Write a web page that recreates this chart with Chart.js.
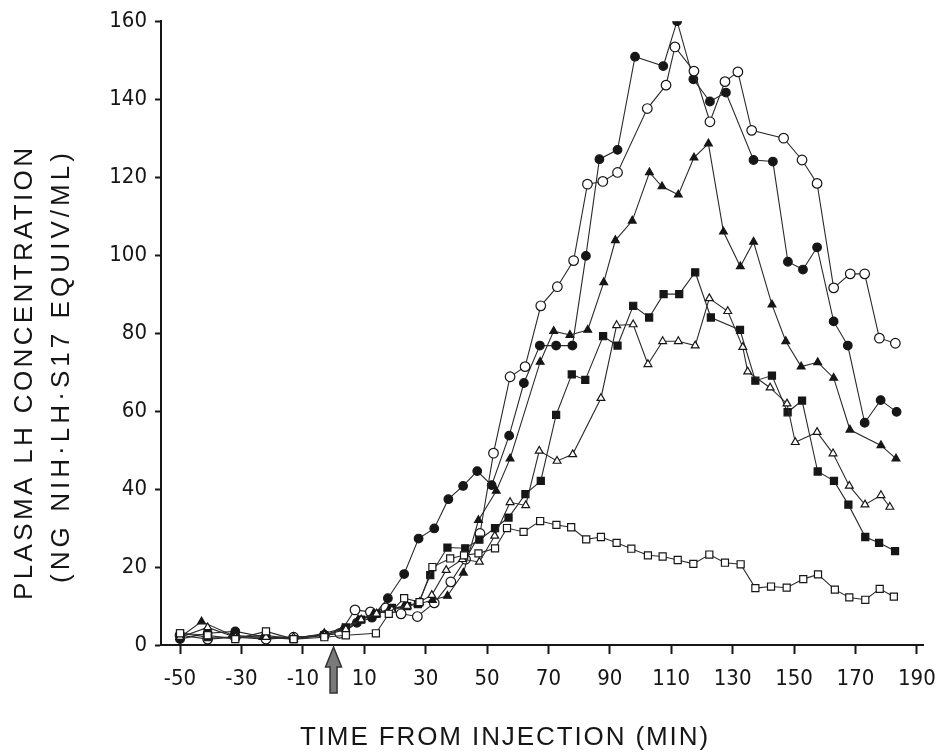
<!DOCTYPE html>
<html>
<head>
<meta charset="utf-8">
<title>Plasma LH concentration</title>
<script src="https://cdn.jsdelivr.net/npm/chart.js@4/dist/chart.umd.min.js"></script>
<style>
  html, body { margin: 0; padding: 0; background: #fff; }
  #wrap { width: 950px; height: 752px; }
</style>
</head>
<body>
<div id="wrap"><canvas id="chart_area" width="950" height="752"></canvas></div>
<script>
'use strict';

//Axis ticks
var xTicks = [-50, -30, -10, 10, 30, 50, 70, 90, 110, 130, 150, 170, 190];
var yTicks = [0, 20, 40, 60, 80, 100, 120, 140, 160];

//Filled circles
var fcTime = [-50, -41, -32, -22, -13, -3, 3, 7.6, 12.5, 17.7, 23, 27.7, 32.8, 37.4, 42.2, 46.8, 51.5, 57.2, 62, 67.2, 72.5, 77.8, 82.2, 86.6, 92.5, 98.2, 107.4, 111.9, 117.2, 122.6, 127.8, 136.8, 143.1, 148, 152.9, 157.5, 162.9, 167.5, 173, 178.2, 183.4];
var fcLH   = [1.5, 3, 3.5, 2, 2, 2.5, 3, 5.7, 7, 12, 18.2, 27.3, 29.9, 37.4, 40.8, 44.6, 41, 53.7, 67.2, 76.8, 76.8, 76.8, 99.8, 124.6, 127, 150.9, 148.5, 160, 145.1, 139.4, 141.7, 124.4, 124, 98.3, 96.3, 102, 83, 76.8, 57, 62.8, 59.8];

//Open circles
var ocTime = [-50, -41, -32, -22, -13, -3, 2, 7, 12, 17, 22, 27.3, 32.8, 38.2, 43, 47.7, 52.1, 57.5, 62.4, 67.5, 72.9, 78.2, 82.7, 87.7, 92.5, 102.2, 108.3, 111.2, 117.4, 122.6, 127.5, 131.7, 136.2, 146.6, 152.6, 157.5, 162.9, 168.3, 173, 177.8, 183];
var ocLH   = [2.5, 1.5, 2, 1.5, 2, 2.5, 3, 9, 8.5, 9.5, 8, 7.3, 10.8, 16.2, 22, 28.6, 49.2, 68.8, 71.4, 87, 91.9, 98.6, 118.2, 118.9, 121.2, 137.6, 143.6, 153.4, 147.2, 134.2, 144.5, 147, 132, 130, 124.4, 118.4, 91.6, 95.2, 95.2, 78.7, 77.4];

//Filled triangles
var ftTime = [-50, -43, -33, -23, -13, -3, 3, 8, 13, 18, 23, 27.5, 32.2, 37.1, 42.3, 47.2, 53, 57.5, 67.3, 71.7, 77, 82.8, 88, 91.8, 97.3, 102.9, 107, 112.3, 117.4, 122.1, 127, 132.5, 136.8, 142.8, 147.3, 152.3, 157.7, 162.9, 168.2, 178.3, 183.2];
var ftLH   = [2, 6, 2.5, 2, 1.5, 3, 4.2, 6.5, 8, 9, 10, 10.5, 11.5, 12.6, 18.5, 32, 39.5, 47.8, 72.6, 80.5, 79.5, 80.8, 93, 103.8, 108.8, 121.2, 117.6, 115.5, 125, 128.6, 106, 97.1, 103.4, 87.3, 77.9, 71.4, 72.5, 68.5, 55.2, 51.2, 47.8];

//Filled squares
var fsTime = [-50, -41, -32, -22, -13, -3, 4, 9, 14, 19, 24, 27.5, 31.5, 37.1, 42.9, 47.5, 52.6, 57, 62.5, 67.5, 72.5, 77.6, 82, 87.8, 92.5, 97.6, 102.8, 107.5, 112.6, 117.8, 122.9, 132.4, 137.4, 142.8, 147.9, 152.6, 157.7, 163, 167.7, 173.2, 177.7, 182.9];
var fsLH   = [3, 2, 2, 2.5, 1.5, 2.5, 4.5, 6.5, 8, 9.5, 10, 10.5, 17.9, 25, 24.8, 27, 30, 32.7, 38.7, 42.1, 59, 69.4, 68, 79.2, 76.8, 87, 84, 90, 90, 95.6, 84, 80.8, 67.8, 69.1, 59.7, 62.7, 44.5, 42.1, 36, 27.7, 26.2, 24.1];

//Open triangles
var otTime = [-50, -41, -32, -22, -13, -3, 4, 9, 14, 19, 24, 28, 32, 36.7, 42, 47.5, 52.5, 57.5, 62.6, 67, 72.8, 77.9, 87.1, 92.2, 97.6, 102.4, 107.2, 112.3, 117.8, 122.4, 128.4, 133.3, 134.9, 142.2, 147.7, 150.4, 157.5, 162.7, 168, 173.1, 178.3, 181.2];
var otLH   = [2, 4.5, 2, 2, 2, 2.5, 4, 6.5, 8, 9, 10, 11, 12.8, 19.2, 22, 21.3, 28, 36.6, 35.8, 49.8, 47.2, 48.9, 63.3, 82, 82.2, 72, 77.9, 77.9, 76.8, 88.9, 85.6, 76.4, 70.1, 66, 61.9, 52, 54.6, 49.1, 40.8, 36, 38.4, 35.4];

//Open squares
var osTime = [-50, -41, -32, -22, -13, -3, 4, 13.8, 18, 23, 28, 32.2, 38, 42.5, 47.2, 52.6, 56.5, 61.9, 67.3, 72.6, 77.4, 82.3, 87.1, 92.2, 97, 102.4, 107.2, 112.1, 117.2, 122.4, 127.5, 132.6, 137.4, 142.5, 147.6, 153, 157.8, 163.3, 168, 173.2, 177.9, 182.5];
var osLH   = [3, 2.5, 1.5, 3.5, 1.5, 2, 2.5, 3, 8, 12, 11, 20, 22.2, 23, 23.5, 24.8, 30, 29, 31.8, 30.8, 30.2, 27.1, 27.7, 26.2, 24.7, 23, 22.7, 21.8, 20.8, 23.2, 21.1, 20.7, 14.6, 15, 14.7, 16.9, 18.1, 14.2, 12.2, 11.6, 14.4, 12.4];

var injectionTime = 0;
var yTitle1 = 'PLASMA LH CONCENTRATION';
var yTitle2 = '(NG NIH\u00B7LH\u00B7S17 EQUIV/ML)';
var xTitle = 'TIME FROM INJECTION (MIN)';

var ink = '#161616';
var tickFont = { family: "'Liberation Sans Narrow', 'DejaVu Sans Condensed', 'Liberation Sans', sans-serif", size: 22 };

function pairs(t, v){
    var out = [];
    for(var i = 0; i < t.length; i++){
        out.push({ x: t[i], y: v[i] });
    }
    return out;
}

function series(t, v, style, filled, radius){
    return {
        data: pairs(t, v),
        showLine: true,
        borderColor: '#2a2a2a',
        borderWidth: 1.1,
        pointStyle: style,
        pointRadius: radius,
        pointBorderWidth: 1.2,
        pointBorderColor: ink,
        pointBackgroundColor: filled ? ink : '#ffffff',
        tension: 0
    };
}

//draw a text centred on (cx,cy), stretched with letter spacing to a given length
function drawSpaced(ctx, text, cx, cy, length, rotate){
    ctx.save();
    ctx.translate(cx, cy);
    if(rotate){ ctx.rotate(-Math.PI / 2); }
    ctx.textAlign = 'center';
    ctx.textBaseline = 'middle';
    if('letterSpacing' in ctx){
        ctx.letterSpacing = '0px';
        var w = ctx.measureText(text).width;
        var gap = (length - w) / (text.length - 1);
        ctx.letterSpacing = gap.toFixed(2) + 'px';
        ctx.fillText(text, gap / 2, 0);
    } else {
        ctx.fillText(text, 0, 0);
    }
    ctx.restore();
}

//Titles and injection arrow
var decorations = {
    id: 'decorations',
    afterDraw: function(chart){
        var ctx = chart.ctx;
        var area = chart.chartArea;
        var x = chart.scales.x.getPixelForValue(injectionTime);
        var b = area.bottom + 2;

        //arrow marking the time of injection
        ctx.save();
        ctx.beginPath();
        ctx.moveTo(x, b);
        ctx.lineTo(x - 8, b + 20);
        ctx.lineTo(x - 3.5, b + 20);
        ctx.lineTo(x - 3.5, b + 46);
        ctx.lineTo(x + 3.5, b + 46);
        ctx.lineTo(x + 3.5, b + 20);
        ctx.lineTo(x + 8, b + 20);
        ctx.closePath();
        ctx.fillStyle = '#7a7a7a';
        ctx.fill();
        ctx.lineWidth = 1.5;
        ctx.strokeStyle = '#333';
        ctx.stroke();
        ctx.restore();

        ctx.save();
        ctx.fillStyle = ink;
        ctx.font = "26px 'Liberation Sans', 'DejaVu Sans', sans-serif";
        drawSpaced(ctx, yTitle1, 25, 374, 452, true);
        drawSpaced(ctx, yTitle2, 62, 368, 430, true);
        drawSpaced(ctx, xTitle, 504, 738, 408, false);
        ctx.restore();
    }
};

var config = {
    type: 'scatter',
    data: {
        datasets: [
            series(osTime, osLH, 'rect', false, 5),
            series(otTime, otLH, 'triangle', false, 4.5),
            series(fsTime, fsLH, 'rect', true, 5),
            series(ftTime, ftLH, 'triangle', true, 4.5),
            series(ocTime, ocLH, 'circle', false, 4.8),
            series(fcTime, fcLH, 'circle', true, 4.3)
        ]
    },
    options: {
        responsive: false,
        animation: false,
        layout: { padding: { left: 0, right: 27, top: 20, bottom: 0 } },
        plugins: {
            legend: { display: false },
            tooltip: { enabled: false }
        },
        scales: {
            x: {
                type: 'linear',
                min: -56.2,
                max: 192,
                afterBuildTicks: function(scale){
                    scale.ticks = xTicks.map(function(v){ return { value: v }; });
                },
                afterFit: function(scale){ scale.height = 107; },
                ticks: { color: ink, font: tickFont, padding: 12, maxRotation: 0, autoSkip: false },
                grid: { drawOnChartArea: false, tickLength: 9, tickWidth: 2, tickColor: ink },
                border: { color: ink, width: 2 }
            },
            y: {
                type: 'linear',
                min: 0,
                max: 160,
                afterBuildTicks: function(scale){
                    scale.ticks = yTicks.map(function(v){ return { value: v }; });
                },
                afterFit: function(scale){ scale.width = 161; },
                ticks: { color: ink, font: tickFont, padding: 8 },
                grid: { drawOnChartArea: false, tickLength: 6, tickWidth: 2, tickColor: ink },
                border: { color: ink, width: 2 }
            }
        }
    },
    plugins: [decorations]
};

var ctx = document.getElementById('chart_area').getContext('2d');
window.myLine = new Chart(ctx, config);
</script>
</body>
</html>
